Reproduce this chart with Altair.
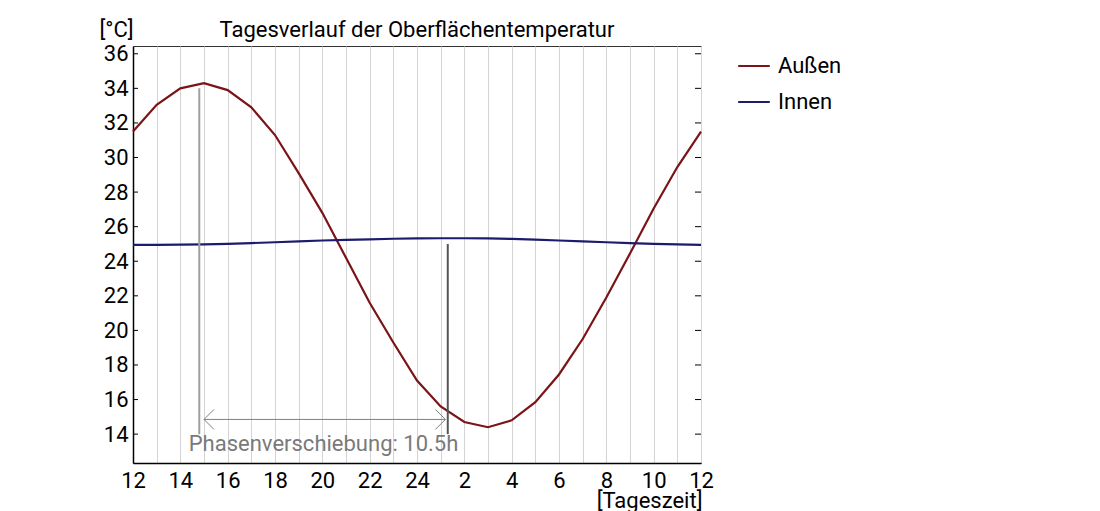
import altair as alt
import pandas as pd

hours = list(range(12, 37))
aussen = [31.5, 33.05, 34.0, 34.3, 33.9, 32.9, 31.3, 29.1, 26.8, 24.2, 21.6, 19.3, 17.1,
          15.6, 14.7, 14.4, 14.8, 15.85, 17.45, 19.5, 21.9, 24.45, 27.05, 29.45, 31.5]
innen = [24.95, 24.95, 24.96, 24.98, 25.01, 25.05, 25.1, 25.15, 25.2, 25.24, 25.27, 25.3, 25.32,
         25.33, 25.33, 25.32, 25.29, 25.25, 25.2, 25.15, 25.1, 25.05, 25.0, 24.97, 24.95]
series = ["Außen", "Innen"]
colors = ["#7a1417", "#1c1c6e"]
y_ticks = list(range(14, 37, 2))

# Phasenverschiebung markers
peak_x = [14.8, 25.3]
peak_top = [34.0, 25.0]
peak_bottom = [14.0, 14.0]
arrow_x = [15.0, 25.2]
arrow_y = 14.85
label_x = 20.05
label_y = 13.0
label_text = "Phasenverschiebung: 10.5h"

W, H = 568, 417
FS = 22

df = pd.DataFrame({
    "hour": hours * 2,
    "temp": aussen + innen,
    "series": [series[0]] * len(hours) + [series[1]] * len(hours),
})

xscale = alt.Scale(domain=[12, 36], nice=False)
yscale = alt.Scale(domain=[12.33, 36.45], nice=False, zero=False)

xaxis = alt.Axis(
    values=hours, grid=True, gridColor="#d4d4d4", ticks=False,
    labelExpr="datum.value % 2 == 1 ? '' : (datum.value > 24 ? datum.value - 24 : datum.value)",
    labelPadding=7, labelOverlap=False, labelFlush=False,
    title="[Tageszeit]", titleAnchor="end", titleAlign="right", titleX=W + 1, titleY=44,
    titleBaseline="alphabetic")
yaxis = alt.Axis(
    values=y_ticks, tickCount=len(y_ticks), grid=False, ticks=False, labelPadding=5,
    labelOverlap=False, labelFlush=False,
    title="[°C]", titleAngle=0, titleAlign="left", titleX=-34, titleY=-10,
    titleBaseline="alphabetic")


def xs(field):
    return alt.X(field, scale=xscale, axis=xaxis)


def ys(field):
    return alt.Y(field, scale=yscale, axis=yaxis)


lines = alt.Chart(df).mark_line(strokeWidth=2.2).encode(
    x=xs("hour:Q"),
    y=ys("temp:Q"),
    color=alt.Color("series:N", scale=alt.Scale(domain=series, range=colors), legend=alt.Legend(
        title=None, orient="none", legendX=604, legendY=3, symbolType="stroke",
        symbolSize=1000, symbolStrokeWidth=2, labelFontSize=FS, labelOffset=7,
        rowPadding=8, labelColor="black")),
)

ticks_df = pd.DataFrame({"v": y_ticks})
left_ticks = alt.Chart(ticks_df).mark_rule(color="black").encode(
    y=ys("v:Q"), x=alt.value(0), x2=alt.value(5))
right_ticks = alt.Chart(ticks_df).mark_rule(color="black").encode(
    y=ys("v:Q"), x=alt.value(W - 6), x2=alt.value(W))

m1 = pd.DataFrame({"x": [peak_x[0]], "y": [peak_top[0]], "y2": [peak_bottom[0]]})
m2 = pd.DataFrame({"x": [peak_x[1]], "y": [peak_top[1]], "y2": [peak_bottom[1]]})
mark1 = alt.Chart(m1).mark_rule(color="#a0a0a0", strokeWidth=2).encode(
    x=xs("x:Q"), y=ys("y:Q"), y2="y2:Q")
mark2 = alt.Chart(m2).mark_rule(color="#555555", strokeWidth=2).encode(
    x=xs("x:Q"), y=ys("y:Q"), y2="y2:Q")

arr = pd.DataFrame({"x": [arrow_x[0]], "x2": [arrow_x[1]], "y": [arrow_y]})
arrow = alt.Chart(arr).mark_rule(color="#808080", strokeWidth=1).encode(
    x=xs("x:Q"), x2="x2:Q", y=ys("y:Q"))
headl = alt.Chart(pd.DataFrame({"x": [arrow_x[0]], "y": [arrow_y]})).mark_point(
    shape="M1,-1L0,0L1,1", size=400, filled=False, color="#808080", strokeWidth=1, opacity=1
).encode(x=xs("x:Q"), y=ys("y:Q"))
headr = alt.Chart(pd.DataFrame({"x": [arrow_x[1]], "y": [arrow_y]})).mark_point(
    shape="M-1,-1L0,0L-1,1", size=400, filled=False, color="#808080", strokeWidth=1, opacity=1
).encode(x=xs("x:Q"), y=ys("y:Q"))

label = alt.Chart(pd.DataFrame({"x": [label_x], "y": [label_y], "t": [label_text]})).mark_text(
    fontSize=FS, color="#7a7a7a", align="center", baseline="alphabetic"
).encode(x=xs("x:Q"), y=ys("y:Q"), text="t:N")

chart = alt.layer(
    lines, left_ticks, right_ticks, mark1, mark2, arrow, headl, headr, label
).properties(
    width=W,
    height=H,
    title=alt.Title("Tagesverlauf der Oberflächentemperatur", fontSize=FS,
                    fontWeight="normal", color="black", anchor="middle", offset=6, dy=30),
    padding={"left": 125, "top": 38, "right": 200, "bottom": 48},
    autosize=alt.AutoSizeParams(type="none"),
).configure(
    font="Roboto",
).configure_axis(
    labelFontSize=FS, labelColor="black", labelOverlap=False, labelFlush=False,
    domainColor="black", domainWidth=1.5,
    titleFontSize=FS, titleFontWeight="normal", titleColor="black",
).configure_view(
    stroke="#333333", strokeWidth=1,
)

chart.save("out.html", embed_options={"renderer": "svg", "actions": False})
